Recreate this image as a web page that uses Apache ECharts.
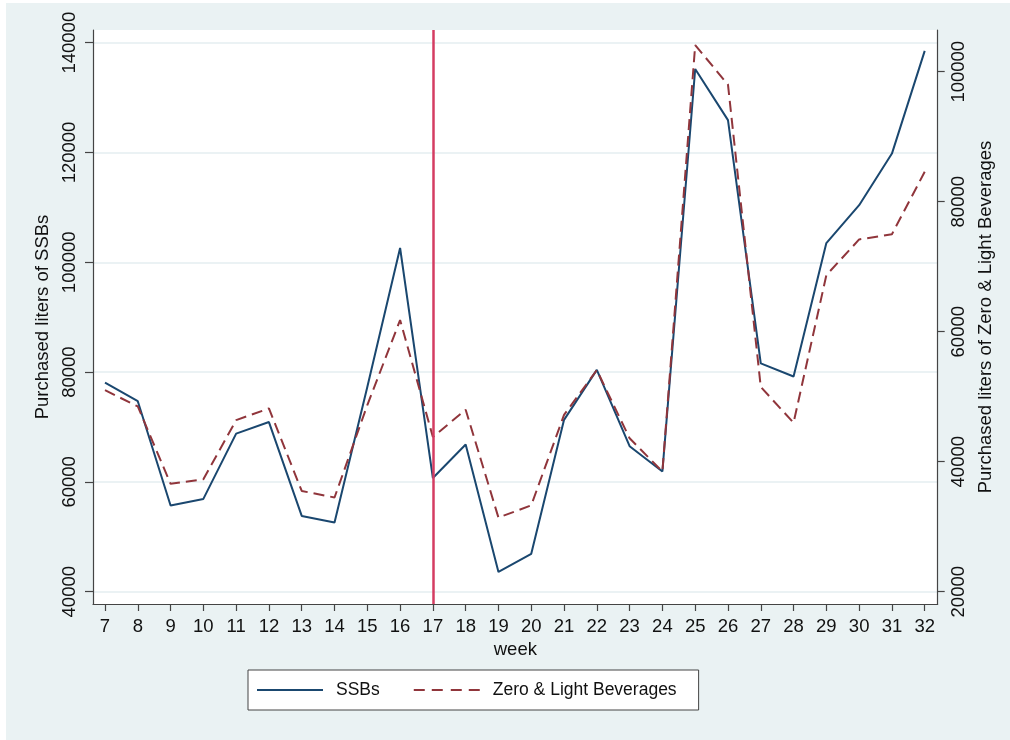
<!DOCTYPE html>
<html>
<head>
<meta charset="utf-8">
<script src="https://cdn.jsdelivr.net/npm/echarts@6/dist/echarts.min.js"></script>
<style>
  html, body { margin: 0; padding: 0; background: #ffffff; }
  #chart { position: absolute; left: 6px; top: 3px; width: 1004px; height: 737px; background: #eaf2f3; }
</style>
</head>
<body>
<div id="chart"></div>
<script>
// weeks on the x axis
var weeks = [7, 8, 9, 10, 11, 12, 13, 14, 15, 16, 17, 18, 19, 20, 21, 22, 23, 24, 25, 26, 27, 28, 29, 30, 31, 32];
// purchased liters, left axis
var ssbs = [78100, 74700, 55700, 56900, 68800, 70900, 53800, 52600, 77300, 102600, 60700, 66800, 43600,
            46900, 71300, 80400, 66500, 61900, 135200, 125900, 81600, 79200, 103500, 110400, 119800, 138500];
// purchased liters, right axis
var zeroLight = [51000, 48500, 36600, 37300, 46400, 48200, 35500, 34500, 48700, 61800, 43800, 48000, 31400,
                 33300, 47200, 54100, 43600, 38500, 104100, 98000, 51500, 46000, 68700, 74200, 75000, 84600];
var leftTicks = [40000, 60000, 80000, 100000, 120000, 140000];
var rightTicks = [20000, 40000, 60000, 80000, 100000];
var policyWeek = 17;

var font = "'Liberation Sans', Arial, Helvetica, sans-serif";
var axisColor = '#444444';
var textColor = '#111111';

// legend keys: plain line and dashed line
var solidKey = 'path://M0,0H66V2H0Z';
var dashedKey = 'path://M0,0H11V2H0Z M18,0H29V2H18Z M37,0H48V2H37Z M55,0H66V2H55Z';

var chart = echarts.init(document.getElementById('chart'));

function pairs(vals) {
  var out = [];
  for (var i = 0; i < weeks.length; i++) out.push([weeks[i], vals[i]]);
  return out;
}

var option = {
  animation: false,
  backgroundColor: '#eaf2f3',
  textStyle: { fontFamily: font },
  grid: {
    left: 87, right: 72.3, top: 27, bottom: 136,
    show: true, backgroundColor: '#ffffff', borderWidth: 0
  },
  legend: {
    left: 242, top: 667,
    padding: [11, 22, 11, 9],
    backgroundColor: '#ffffff',
    borderColor: '#444444', borderWidth: 1, borderRadius: 0,
    itemWidth: 66, itemHeight: 2, itemGap: 34,
    textStyle: { fontFamily: font, fontSize: 17.5, color: textColor, padding: [0, 0, 0, 8] },
    data: [
      { name: 'SSBs', icon: solidKey },
      { name: 'Zero & Light Beverages', icon: dashedKey }
    ]
  },
  xAxis: {
    type: 'value',
    min: 6.634, max: 32.396,
    name: 'week', nameLocation: 'middle', nameGap: 36,
    nameTextStyle: { fontFamily: font, fontSize: 18.5, color: textColor },
    axisLine: { show: true, onZero: false, lineStyle: { color: axisColor, width: 1.2 } },
    axisTick: { show: true, inside: false, length: 7, customValues: weeks, lineStyle: { color: axisColor, width: 1.2 } },
    axisLabel: { customValues: weeks, margin: 13, fontFamily: font, fontSize: 18.5, color: textColor },
    splitLine: { show: false }
  },
  yAxis: [
    {
      type: 'value', position: 'left',
      min: 37760, max: 142310,
      name: 'Purchased liters of SSBs', nameLocation: 'middle', nameGap: 39,
      nameTextStyle: { fontFamily: font, fontSize: 18.5, color: textColor },
      axisLine: { show: true, lineStyle: { color: axisColor, width: 1.2 } },
      axisTick: { show: true, inside: false, length: 8, customValues: leftTicks, lineStyle: { color: axisColor, width: 1.2 } },
      axisLabel: {
        customValues: leftTicks, rotate: 90, margin: 14,
        fontFamily: font, fontSize: 18.5, color: textColor,
        formatter: function (v) { return String(v); }
      },
      splitLine: { show: true, lineStyle: { color: '#e4eef0', width: 1.5 } }
    },
    {
      type: 'value', position: 'right',
      min: 18110, max: 106420,
      name: 'Purchased liters of Zero & Light Beverages', nameLocation: 'middle', nameGap: 32, nameRotate: 90,
      nameTextStyle: { fontFamily: font, fontSize: 18.5, color: textColor },
      axisLine: { show: true, lineStyle: { color: axisColor, width: 1.2 } },
      axisTick: { show: true, inside: false, length: 7, customValues: rightTicks, lineStyle: { color: axisColor, width: 1.2 } },
      axisLabel: {
        customValues: rightTicks, rotate: 90, margin: 12,
        fontFamily: font, fontSize: 18.5, color: textColor,
        formatter: function (v) { return String(v); }
      },
      splitLine: { show: false }
    }
  ],
  series: [
    {
      name: 'SSBs', type: 'line', yAxisIndex: 0,
      symbol: 'none', data: pairs(ssbs),
      lineStyle: { color: '#1a476f', width: 2 },
      itemStyle: { color: '#1a476f' },
      markLine: {
        silent: true, symbol: 'none',
        label: { show: false },
        lineStyle: { color: '#d43c62', width: 2.5, type: 'solid' },
        data: [{ xAxis: policyWeek }]
      }
    },
    {
      name: 'Zero & Light Beverages', type: 'line', yAxisIndex: 1,
      symbol: 'none', data: pairs(zeroLight),
      lineStyle: { color: '#90353b', width: 2, type: [11, 6] },
      itemStyle: { color: '#90353b' }
    }
  ]
};

chart.setOption(option);
</script>
</body>
</html>
